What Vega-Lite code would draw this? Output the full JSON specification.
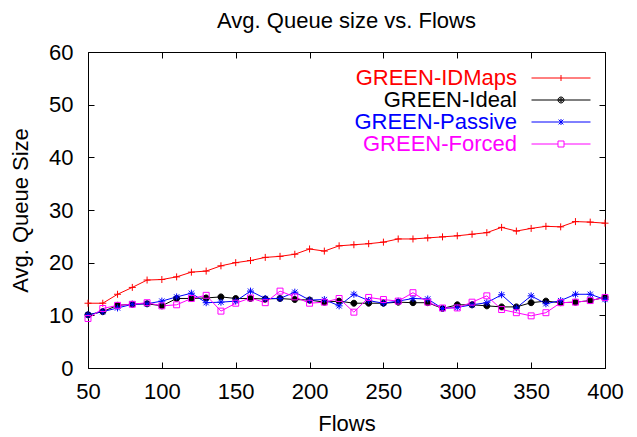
{
  "$schema": "https://vega.github.io/schema/vega-lite/v6.json",
  "width": 517,
  "height": 316,
  "autosize": "none",
  "padding": {"left": 88, "top": 52, "right": 32, "bottom": 69},
  "background": "white",
  "config": {
    "font": "Liberation Sans",
    "view": {"stroke": "black", "strokeWidth": 1},
    "axis": {"grid": false, "domain": false, "tickSize": -6, "tickColor": "black", "tickWidth": 1,
             "labelFont": "Liberation Sans", "labelFontSize": 22, "labelColor": "black",
             "titleFont": "Liberation Sans", "titleFontSize": 22, "titleFontWeight": "normal", "titleColor": "black",
             "labelFlush": false, "labelOverlap": false, "labelBound": false}
  },
  "title": {"text": "Avg. Queue size vs. Flows", "font": "Liberation Sans", "fontSize": 22, "fontWeight": "normal", "color": "black", "anchor": "middle", "frame": "group", "baseline": "bottom", "offset": 10, "dy": 24},
  "data": {"values": [
    {"flows":50,"series":"GREEN-IDMaps","size":12.3},{"flows":60,"series":"GREEN-IDMaps","size":12.3},{"flows":70,"series":"GREEN-IDMaps","size":14.0},{"flows":80,"series":"GREEN-IDMaps","size":15.3},{"flows":90,"series":"GREEN-IDMaps","size":16.7},{"flows":100,"series":"GREEN-IDMaps","size":16.8},{"flows":110,"series":"GREEN-IDMaps","size":17.3},{"flows":120,"series":"GREEN-IDMaps","size":18.2},{"flows":130,"series":"GREEN-IDMaps","size":18.4},{"flows":140,"series":"GREEN-IDMaps","size":19.4},{"flows":150,"series":"GREEN-IDMaps","size":20.0},{"flows":160,"series":"GREEN-IDMaps","size":20.4},{"flows":170,"series":"GREEN-IDMaps","size":21.0},{"flows":180,"series":"GREEN-IDMaps","size":21.2},{"flows":190,"series":"GREEN-IDMaps","size":21.6},{"flows":200,"series":"GREEN-IDMaps","size":22.6},{"flows":210,"series":"GREEN-IDMaps","size":22.2},{"flows":220,"series":"GREEN-IDMaps","size":23.2},{"flows":230,"series":"GREEN-IDMaps","size":23.4},{"flows":240,"series":"GREEN-IDMaps","size":23.6},{"flows":250,"series":"GREEN-IDMaps","size":23.9},{"flows":260,"series":"GREEN-IDMaps","size":24.5},{"flows":270,"series":"GREEN-IDMaps","size":24.5},{"flows":280,"series":"GREEN-IDMaps","size":24.7},{"flows":290,"series":"GREEN-IDMaps","size":24.9},{"flows":300,"series":"GREEN-IDMaps","size":25.1},{"flows":310,"series":"GREEN-IDMaps","size":25.4},{"flows":320,"series":"GREEN-IDMaps","size":25.7},{"flows":330,"series":"GREEN-IDMaps","size":26.7},{"flows":340,"series":"GREEN-IDMaps","size":26.0},{"flows":350,"series":"GREEN-IDMaps","size":26.5},{"flows":360,"series":"GREEN-IDMaps","size":26.9},{"flows":370,"series":"GREEN-IDMaps","size":26.8},{"flows":380,"series":"GREEN-IDMaps","size":27.8},{"flows":390,"series":"GREEN-IDMaps","size":27.7},{"flows":400,"series":"GREEN-IDMaps","size":27.5},
    {"flows":50,"series":"GREEN-Ideal","size":10.1},{"flows":60,"series":"GREEN-Ideal","size":10.7},{"flows":70,"series":"GREEN-Ideal","size":11.9},{"flows":80,"series":"GREEN-Ideal","size":12.1},{"flows":90,"series":"GREEN-Ideal","size":12.2},{"flows":100,"series":"GREEN-Ideal","size":11.8},{"flows":110,"series":"GREEN-Ideal","size":13.2},{"flows":120,"series":"GREEN-Ideal","size":13.2},{"flows":130,"series":"GREEN-Ideal","size":13.3},{"flows":140,"series":"GREEN-Ideal","size":13.5},{"flows":150,"series":"GREEN-Ideal","size":13.2},{"flows":160,"series":"GREEN-Ideal","size":13.2},{"flows":170,"series":"GREEN-Ideal","size":13.1},{"flows":180,"series":"GREEN-Ideal","size":13.2},{"flows":190,"series":"GREEN-Ideal","size":13.0},{"flows":200,"series":"GREEN-Ideal","size":12.9},{"flows":210,"series":"GREEN-Ideal","size":12.5},{"flows":220,"series":"GREEN-Ideal","size":12.7},{"flows":230,"series":"GREEN-Ideal","size":12.3},{"flows":240,"series":"GREEN-Ideal","size":12.3},{"flows":250,"series":"GREEN-Ideal","size":12.3},{"flows":260,"series":"GREEN-Ideal","size":12.5},{"flows":270,"series":"GREEN-Ideal","size":12.4},{"flows":280,"series":"GREEN-Ideal","size":12.4},{"flows":290,"series":"GREEN-Ideal","size":11.3},{"flows":300,"series":"GREEN-Ideal","size":12.0},{"flows":310,"series":"GREEN-Ideal","size":12.0},{"flows":320,"series":"GREEN-Ideal","size":11.8},{"flows":330,"series":"GREEN-Ideal","size":11.6},{"flows":340,"series":"GREEN-Ideal","size":11.6},{"flows":350,"series":"GREEN-Ideal","size":12.4},{"flows":360,"series":"GREEN-Ideal","size":12.7},{"flows":370,"series":"GREEN-Ideal","size":12.4},{"flows":380,"series":"GREEN-Ideal","size":12.5},{"flows":390,"series":"GREEN-Ideal","size":12.8},{"flows":400,"series":"GREEN-Ideal","size":13.4},
    {"flows":50,"series":"GREEN-Passive","size":10.1},{"flows":60,"series":"GREEN-Passive","size":10.7},{"flows":70,"series":"GREEN-Passive","size":11.4},{"flows":80,"series":"GREEN-Passive","size":12.1},{"flows":90,"series":"GREEN-Passive","size":12.2},{"flows":100,"series":"GREEN-Passive","size":12.7},{"flows":110,"series":"GREEN-Passive","size":13.5},{"flows":120,"series":"GREEN-Passive","size":14.2},{"flows":130,"series":"GREEN-Passive","size":12.4},{"flows":140,"series":"GREEN-Passive","size":12.5},{"flows":150,"series":"GREEN-Passive","size":12.7},{"flows":160,"series":"GREEN-Passive","size":14.6},{"flows":170,"series":"GREEN-Passive","size":13.2},{"flows":180,"series":"GREEN-Passive","size":13.2},{"flows":190,"series":"GREEN-Passive","size":14.4},{"flows":200,"series":"GREEN-Passive","size":12.9},{"flows":210,"series":"GREEN-Passive","size":13.0},{"flows":220,"series":"GREEN-Passive","size":11.8},{"flows":230,"series":"GREEN-Passive","size":14.0},{"flows":240,"series":"GREEN-Passive","size":12.8},{"flows":250,"series":"GREEN-Passive","size":12.3},{"flows":260,"series":"GREEN-Passive","size":12.7},{"flows":270,"series":"GREEN-Passive","size":13.2},{"flows":280,"series":"GREEN-Passive","size":13.1},{"flows":290,"series":"GREEN-Passive","size":11.3},{"flows":300,"series":"GREEN-Passive","size":11.5},{"flows":310,"series":"GREEN-Passive","size":12.0},{"flows":320,"series":"GREEN-Passive","size":12.4},{"flows":330,"series":"GREEN-Passive","size":13.9},{"flows":340,"series":"GREEN-Passive","size":11.4},{"flows":350,"series":"GREEN-Passive","size":13.7},{"flows":360,"series":"GREEN-Passive","size":12.2},{"flows":370,"series":"GREEN-Passive","size":12.8},{"flows":380,"series":"GREEN-Passive","size":14.0},{"flows":390,"series":"GREEN-Passive","size":14.0},{"flows":400,"series":"GREEN-Passive","size":13.0},
    {"flows":50,"series":"GREEN-Forced","size":9.4},{"flows":60,"series":"GREEN-Forced","size":11.3},{"flows":70,"series":"GREEN-Forced","size":11.9},{"flows":80,"series":"GREEN-Forced","size":12.1},{"flows":90,"series":"GREEN-Forced","size":12.4},{"flows":100,"series":"GREEN-Forced","size":11.8},{"flows":110,"series":"GREEN-Forced","size":12.0},{"flows":120,"series":"GREEN-Forced","size":13.2},{"flows":130,"series":"GREEN-Forced","size":13.8},{"flows":140,"series":"GREEN-Forced","size":10.8},{"flows":150,"series":"GREEN-Forced","size":12.3},{"flows":160,"series":"GREEN-Forced","size":13.3},{"flows":170,"series":"GREEN-Forced","size":12.4},{"flows":180,"series":"GREEN-Forced","size":14.6},{"flows":190,"series":"GREEN-Forced","size":13.5},{"flows":200,"series":"GREEN-Forced","size":12.3},{"flows":210,"series":"GREEN-Forced","size":12.5},{"flows":220,"series":"GREEN-Forced","size":13.2},{"flows":230,"series":"GREEN-Forced","size":10.6},{"flows":240,"series":"GREEN-Forced","size":13.4},{"flows":250,"series":"GREEN-Forced","size":13.0},{"flows":260,"series":"GREEN-Forced","size":12.7},{"flows":270,"series":"GREEN-Forced","size":14.3},{"flows":280,"series":"GREEN-Forced","size":12.5},{"flows":290,"series":"GREEN-Forced","size":11.4},{"flows":300,"series":"GREEN-Forced","size":11.4},{"flows":310,"series":"GREEN-Forced","size":12.5},{"flows":320,"series":"GREEN-Forced","size":13.7},{"flows":330,"series":"GREEN-Forced","size":11.1},{"flows":340,"series":"GREEN-Forced","size":10.5},{"flows":350,"series":"GREEN-Forced","size":9.9},{"flows":360,"series":"GREEN-Forced","size":10.5},{"flows":370,"series":"GREEN-Forced","size":12.4},{"flows":380,"series":"GREEN-Forced","size":12.5},{"flows":390,"series":"GREEN-Forced","size":12.8},{"flows":400,"series":"GREEN-Forced","size":13.4}
  ]},
  "layer": [
    {
      "mark": {"type": "line", "strokeWidth": 1, "clip": true},
      "encoding": {
        "x": {"field": "flows", "type": "quantitative", "scale": {"domain": [50, 400], "nice": false, "zero": false},
              "axis": {"orient": "bottom", "title": "Flows", "values": [50,100,150,200,250,300,350,400], "labelPadding": 19, "titlePadding": 11}},
        "y": {"field": "size", "type": "quantitative", "scale": {"domain": [0, 60], "nice": false, "zero": false},
              "axis": {"orient": "left", "title": "Avg. Queue Size", "values": [0,10,20,30,40,50,60], "labelPadding": 21, "titlePadding": 16}},
        "color": {"field": "series", "type": "nominal",
                  "scale": {"domain": ["GREEN-IDMaps","GREEN-Ideal","GREEN-Passive","GREEN-Forced"], "range": ["#ff0000","#000000","#0000ff","#ff00ff"]},
                  "legend": null},
        "order": {"field": "flows", "type": "quantitative"}
      }
    },
    {
      "mark": {"type": "point", "filled": false, "strokeWidth": 1, "opacity": 1, "size": 49},
      "encoding": {
        "x": {"field": "flows", "type": "quantitative",
              "axis": {"orient": "top", "title": null, "labels": false, "values": [50,100,150,200,250,300,350,400]}},
        "y": {"field": "size", "type": "quantitative",
              "axis": {"orient": "right", "title": null, "labels": false, "values": [0,10,20,30,40,50,60]}},
        "color": {"field": "series", "type": "nominal",
                  "scale": {"domain": ["GREEN-IDMaps","GREEN-Ideal","GREEN-Passive","GREEN-Forced"], "range": ["#ff0000","#000000","#0000ff","#ff00ff"]},
                  "legend": null},
        "shape": {"field": "series", "type": "nominal",
                  "scale": {"domain": ["GREEN-IDMaps","GREEN-Ideal","GREEN-Passive","GREEN-Forced"],
                            "range": ["M-1,0H1M0,-1V1",
                                      "M0.85,0A0.85,0.85,0,1,1,-0.85,0A0.85,0.85,0,1,1,0.85,0Z",
                                      "M-1,0H1M0,-1V1M-0.75,-0.75L0.75,0.75M-0.75,0.75L0.75,-0.75",
                                      "M-0.85,-0.85H0.85V0.85H-0.85Z"]},
                  "legend": null},
        "fill": {"condition": {"test": "datum.series === 'GREEN-Ideal'", "value": "#000000"}, "value": "transparent"}
      }
    },
    {
      "transform": [{"filter": "false"}],
      "mark": {"type": "point", "filled": false, "strokeWidth": 1, "opacity": 1},
      "encoding": {
        "x": {"field": "flows", "type": "quantitative", "axis": null},
        "y": {"field": "size", "type": "quantitative", "axis": null},
        "color": {"field": "series", "type": "nominal",
                  "scale": {"domain": ["GREEN-IDMaps","GREEN-Ideal","GREEN-Passive","GREEN-Forced"], "range": ["#ff0000","#000000","#0000ff","#ff00ff"]},
                  "legend": {"title": null, "orient": "none", "legendX": 462, "legendY": 15, "padding": 0,
                             "symbolSize": 400, "symbolStrokeWidth": 1, "symbolOpacity": 1,
                             "labelFont": "Liberation Sans", "labelFontSize": 22, "labelAlign": "right", "labelOffset": -55, "labelLimit": 300,
                             "labelColor": {"expr": "datum.value === 'GREEN-IDMaps' ? '#ff0000' : datum.value === 'GREEN-Ideal' ? '#000000' : datum.value === 'GREEN-Passive' ? '#0000ff' : '#ff00ff'"},
                             "rowPadding": 0, "direction": "vertical"}},
        "shape": {"field": "series", "type": "nominal",
                  "scale": {"domain": ["GREEN-IDMaps","GREEN-Ideal","GREEN-Passive","GREEN-Forced"],
                            "range": ["M-2.95,0H2.95M0,-0.3V0.3",
                                      "M-2.95,0H2.95M0.3,0A0.3,0.3,0,1,1,-0.3,0A0.3,0.3,0,1,1,0.3,0M0.18,0A0.18,0.18,0,1,1,-0.18,0A0.18,0.18,0,1,1,0.18,0M0.07,0A0.07,0.07,0,1,1,-0.07,0A0.07,0.07,0,1,1,0.07,0",
                                      "M-2.95,0H2.95M0,-0.3V0.3M-0.24,-0.24L0.24,0.24M-0.24,0.24L0.24,-0.24",
                                      "M-2.95,0H-0.3M0.3,0H2.95M-0.3,-0.3H0.3V0.3H-0.3Z"]},
                  "legend": {"title": null, "orient": "none", "legendX": 462, "legendY": 15, "padding": 0,
                             "symbolSize": 400, "symbolStrokeWidth": 1, "symbolOpacity": 1,
                             "labelFont": "Liberation Sans", "labelFontSize": 22, "labelAlign": "right", "labelOffset": -55, "labelLimit": 300,
                             "labelColor": {"expr": "datum.value === 'GREEN-IDMaps' ? '#ff0000' : datum.value === 'GREEN-Ideal' ? '#000000' : datum.value === 'GREEN-Passive' ? '#0000ff' : '#ff00ff'"},
                             "rowPadding": 0, "direction": "vertical"}}
      }
    }
  ],
  "resolve": {"scale": {"color": "independent", "shape": "independent"}, "axis": {"x": "independent", "y": "independent"}}
}
